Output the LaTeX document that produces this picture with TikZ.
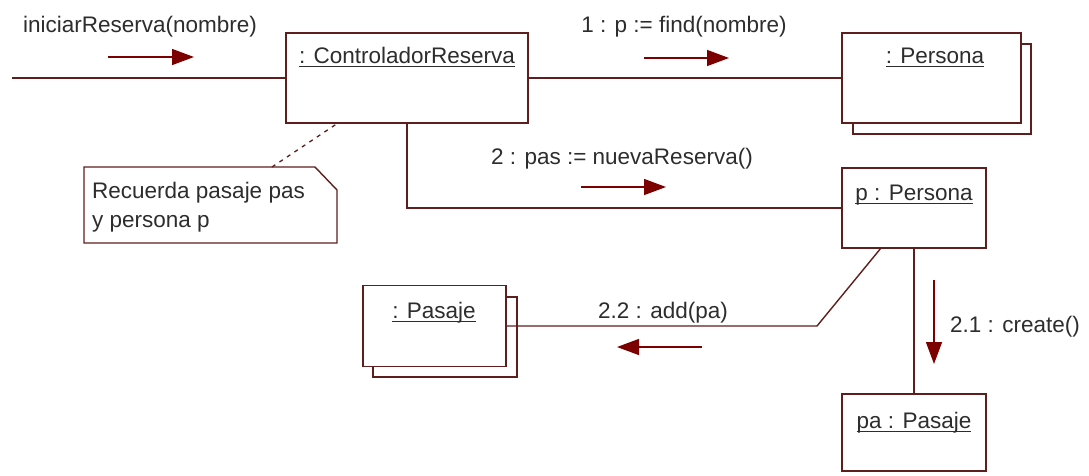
\documentclass[tikz,border=0pt]{standalone}
\usepackage{fontspec}
\setmainfont{Liberation Sans}
\usetikzlibrary{arrows.meta,calc}
\definecolor{lc}{RGB}{95,30,30}
\definecolor{ac}{RGB}{125,0,0}
\definecolor{tc}{RGB}{45,45,45}
\newcommand\uln[1]{\setbox0\hbox{#1}\rlap{\rule[-4pt]{\wd0}{1.4pt}}\box0}
\begin{document}
\begin{tikzpicture}[x=1pt,y=-1pt,
  obj/.style={draw=lc, fill=white, line width=1.4pt, rectangle, inner sep=0pt},
  lnk/.style={draw=lc, line width=1.4pt},
  msg/.style={draw=ac, line width=1.4pt, -{Triangle[length=22pt,width=16pt]}},
  lbl/.style={text=tc, font=\fontsize{22.5}{29}\selectfont, inner sep=0pt, anchor=base},
  oname/.style={lbl},
  notelink/.style={draw=lc, line width=1.3pt, dash pattern=on 4pt off 5pt}]
\fill[white] (0,0) rectangle (1089,475);
\useasboundingbox (0,0) rectangle (1089,475);

% object boxes
\node[obj, minimum width=242pt, minimum height=90pt] (ctrl) at (407,78) {};
\node[oname] (ctrln) at (407,63) {\uln{: ControladorReserva}};

\node[obj, minimum width=178pt, minimum height=90pt] (perss) at (942,89) {};
\node[obj, minimum width=179pt, minimum height=90pt] (pers) at (931.5,78) {};
\node[oname] (persn) at (935,63) {\uln{: Persona}};

\node[obj, minimum width=144pt, minimum height=80pt] (pp) at (914,208) {};
\node[oname] (ppn) at (914,200) {\uln{p : Persona}};

\node[obj, minimum width=144pt, minimum height=80pt] (pass) at (445,337) {};
\node[obj, minimum width=143pt, minimum height=81pt] (pas) at (434.5,326) {};
\node[oname] (pasn) at (434,318) {\uln{: Pasaje}};

\node[obj, minimum width=144pt, minimum height=77pt] (pa) at (914,432.5) {};
\node[oname] (pan) at (914,428) {\uln{pa : Pasaje}};

% links
\coordinate (start) at (12,78);
\draw[lnk] (start) -- (ctrl.west);
\draw[lnk] (ctrl.east) -- (pers.west);
\draw[lnk] (ctrl.south) |- (pp.west);
\coordinate (d1) at (881,248);
\coordinate (d2) at (817,326);
\draw[lnk] (d1) -- (d2) -- (pas.east);
\draw[lnk] (pp.south) -- (pa.north);

% note
\coordinate (n1) at (84,167);
\coordinate (n2) at (315,167);
\coordinate (n3) at (337,190);
\coordinate (n4) at (337,243);
\coordinate (n5) at (84,243);
\draw[lnk, fill=white] (n1) -- (n2) -- (n3) -- (n4) -- (n5) -- cycle;
\node[lbl, anchor=north west, align=left] (note) at (92,181.5) {Recuerda pasaje pas\\y persona p};
\coordinate (nd) at (272,167);
\coordinate (cd) at (338,123);
\draw[notelink] (nd) -- (cd);

% messages
\coordinate (m1a) at (108,57); \coordinate (m1b) at (194,57);
\draw[msg] (m1a) -- (m1b);
\node[lbl] (m1) at (140,32) {iniciarReserva(nombre)};

\coordinate (m2a) at (644,58); \coordinate (m2b) at (729,58);
\draw[msg] (m2a) -- (m2b);
\node[lbl] (m2) at (684,32) {1 : p := find(nombre)};

\coordinate (m3a) at (581,187); \coordinate (m3b) at (666,187);
\draw[msg] (m3a) -- (m3b);
\node[lbl] (m3) at (622,164) {2 : pas := nuevaReserva()};

\coordinate (m4a) at (702,347); \coordinate (m4b) at (617,347);
\draw[msg] (m4a) -- (m4b);
\node[lbl] (m4) at (663,318) {2.2 : add(pa)};

\coordinate (m5a) at (934,280); \coordinate (m5b) at (934,364);
\draw[msg] (m5a) -- (m5b);
\node[lbl, anchor=base west] (m5) at (950,332) {2.1 : create()};
\end{tikzpicture}
\end{document}
